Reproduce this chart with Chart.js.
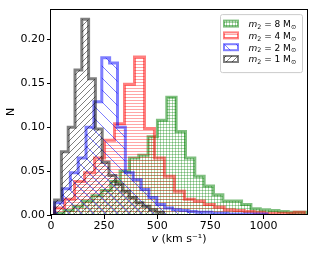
<!DOCTYPE html>
<html>
<head>
<meta charset="utf-8">
<script src="https://cdn.jsdelivr.net/npm/chart.js@4.4.0/dist/chart.umd.min.js"></script>
<style>
  html, body { margin: 0; padding: 0; background: #ffffff; }
  #wrap { width: 315px; height: 253px; }
</style>
</head>
<body>
<div id="wrap"><canvas id="velChart" width="315" height="253"></canvas></div>
<script>
// Velocity distributions for different companion masses
// bin edges in km/s, values are fraction of systems per bin

const edges8 = [17, 61, 105, 149, 193, 237, 281, 325, 369, 413, 457, 501, 545, 589,
  633, 677, 721, 765, 809, 853, 897, 941, 985, 1029, 1073, 1117, 1161, 1205];
const vals8 = [0.002, 0.005, 0.010, 0.016, 0.022, 0.028, 0.038, 0.050, 0.065, 0.068,
  0.089, 0.108, 0.134, 0.095, 0.065, 0.044, 0.033, 0.023, 0.016, 0.016, 0.012,
  0.007, 0.006, 0.005, 0.004, 0.003, 0.003];

const edges4 = [17, 64, 111, 158, 205, 252, 299, 346, 393, 440, 487, 534, 581, 628,
  675, 722, 769, 816, 863, 910, 957, 1004, 1051, 1098, 1145, 1192];
const vals4 = [0.008, 0.018, 0.038, 0.048, 0.065, 0.085, 0.104, 0.149, 0.180, 0.0985,
  0.065, 0.044, 0.027, 0.018, 0.016, 0.012, 0.009, 0.006, 0.005, 0.004, 0.003,
  0.002, 0.002, 0.002, 0.003];

const edges2 = [17, 54, 91, 128, 165, 202, 239, 276, 313, 350, 387, 424, 461, 498,
  535, 572, 609, 646, 683, 720, 757, 794, 831, 868, 905, 942, 979, 1016];
const vals2 = [0.014, 0.030, 0.048, 0.065, 0.100, 0.129, 0.179, 0.173, 0.100, 0.048,
  0.040, 0.029, 0.020, 0.012, 0.008, 0.006, 0.005, 0.004, 0.003, 0.003, 0.002,
  0.002, 0.001, 0.001, 0.001, 0.001, 0.001];

const edges1 = [17, 49, 81, 113, 145, 177, 209, 241, 273, 305, 337, 369, 401, 433,
  465, 497, 529];
const vals1 = [0.017, 0.072, 0.100, 0.165, 0.223, 0.155, 0.098, 0.060, 0.045, 0.035,
  0.027, 0.020, 0.014, 0.010, 0.006, 0.003];

const massLabels = ["8", "4", "2", "1"];
const xTicks = [0, 250, 500, 750, 1000];
const yTicks = [0, 0.05, 0.10, 0.15, 0.20];

const FONT = "'DejaVu Sans', 'Liberation Sans', sans-serif";

// hatch patterns, roughly like matplotlib's '++++', '----', '\\' and '//'
function makeHatch(kind, color, size) {
  const c = document.createElement("canvas");
  c.width = size;
  c.height = size;
  const g = c.getContext("2d");
  g.strokeStyle = color;
  g.lineWidth = 1;
  g.beginPath();
  if (kind === "grid" || kind === "horizontal") {
    g.moveTo(0, size / 2);
    g.lineTo(size, size / 2);
  }
  if (kind === "grid") {
    g.moveTo(size / 2, 0);
    g.lineTo(size / 2, size);
  }
  if (kind === "forward") {
    g.moveTo(-1, size + 1);
    g.lineTo(size + 1, -1);
    g.moveTo(-1, 1);
    g.lineTo(1, -1);
    g.moveTo(size - 1, size + 1);
    g.lineTo(size + 1, size - 1);
  }
  if (kind === "back") {
    g.moveTo(-1, -1);
    g.lineTo(size + 1, size + 1);
    g.moveTo(size - 1, -1);
    g.lineTo(size + 1, 1);
    g.moveTo(-1, size - 1);
    g.lineTo(1, size + 1);
  }
  g.stroke();
  return g.createPattern(c, "repeat");
}

// histogram outline: one point per bin start, closed down to zero at both ends
function stepPoints(edges, vals) {
  const pts = [{ x: edges[0], y: 0 }];
  vals.forEach((v, i) => pts.push({ x: edges[i], y: v }));
  pts.push({ x: edges[edges.length - 1], y: 0 });
  return pts;
}

const colGreen = "rgba(0, 128, 0, 0.5)";
const colRed = "rgba(255, 0, 0, 0.5)";
const colBlue = "rgba(0, 0, 255, 0.5)";
const colGray = "rgba(0, 0, 0, 0.5)";

function histDataset(label, edges, vals, color, hatch, order) {
  return {
    label: label,
    data: stepPoints(edges, vals),
    borderColor: color,
    backgroundColor: hatch,
    borderWidth: 3,
    borderJoinStyle: "miter",
    stepped: true,
    fill: "origin",
    pointRadius: 0,
    order: order,
  };
}

const datasets = [
  histDataset("m₂ = 8 M⊙", edges8, vals8, colGreen, makeHatch("grid", "rgba(0,128,0,0.33)", 3), 4),
  histDataset("m₂ = 4 M⊙", edges4, vals4, colRed, makeHatch("horizontal", "rgba(255,0,0,0.35)", 3), 3),
  histDataset("m₂ = 2 M⊙", edges2, vals2, colBlue, makeHatch("back", colBlue, 12), 2),
  histDataset("m₂ = 1 M⊙", edges1, vals1, colGray, makeHatch("forward", colGray, 6), 1),
];

// full box around the plot area
const frameBox = {
  id: "frameBox",
  afterDatasetsDraw(chart) {
    const { ctx, chartArea: a } = chart;
    ctx.save();
    ctx.strokeStyle = "#000";
    ctx.lineWidth = 1;
    ctx.strokeRect(Math.round(a.left) - 0.5, Math.round(a.top) + 0.5,
      Math.round(a.right - a.left) + 1, Math.round(a.bottom - a.top) - 1);
    ctx.restore();
  },
};

// legend in matplotlib style plus the axis labels
const legendBox = {
  id: "legendBox",
  afterDraw(chart) {
    const { ctx, chartArea: a } = chart;
    ctx.save();

    const w = 82, h = 58;
    const left = a.right - 5 - w;
    const top = a.top + 5.5;
    ctx.beginPath();
    ctx.roundRect(left + 0.5, top + 0.5, w, h, 2);
    ctx.fillStyle = "rgba(255,255,255,0.8)";
    ctx.fill();
    ctx.strokeStyle = "#cccccc";
    ctx.lineWidth = 1;
    ctx.stroke();

    chart.data.datasets.forEach((ds, i) => {
      const rowY = top + 9.5 + i * 11.8;
      ctx.fillStyle = ds.backgroundColor;
      ctx.fillRect(left + 4, rowY - 3, 14, 6);
      ctx.strokeStyle = ds.borderColor;
      ctx.lineWidth = 2;
      ctx.strokeRect(left + 4, rowY - 3, 14, 6);

      let x = left + 28.5;
      const base = rowY + 3.3;
      ctx.fillStyle = "#000";
      ctx.textBaseline = "alphabetic";
      ctx.textAlign = "left";
      ctx.font = "italic 9px " + FONT;
      ctx.fillText("m", x, base);
      x += ctx.measureText("m").width;
      ctx.font = "6.3px " + FONT;
      ctx.fillText("2", x, base + 1.8);
      x += ctx.measureText("2").width;
      ctx.font = "9px " + FONT;
      const mid = " = " + massLabels[i] + " M";
      ctx.fillText(mid, x, base);
      x += ctx.measureText(mid).width;
      ctx.font = "6.3px " + FONT;
      ctx.fillText("⊙", x, base + 1.8);
    });

    // x label: italic v, then the units
    ctx.fillStyle = "#000";
    ctx.textBaseline = "alphabetic";
    ctx.textAlign = "left";
    ctx.font = "italic 11px " + FONT;
    const vW = ctx.measureText("v").width;
    ctx.font = "11px " + FONT;
    const unit = " (km s⁻¹)";
    const uW = ctx.measureText(unit).width;
    const cx = (a.left + a.right) / 2;
    let xs = cx - (vW + uW) / 2;
    ctx.font = "italic 11px " + FONT;
    ctx.fillText("v", xs, 242);
    ctx.font = "11px " + FONT;
    ctx.fillText(unit, xs + vW, 242);

    // y label
    ctx.translate(11, (a.top + a.bottom) / 2);
    ctx.rotate(-Math.PI / 2);
    ctx.textAlign = "center";
    ctx.textBaseline = "middle";
    ctx.fillText("N", 0, 0);

    ctx.restore();
  },
};

new Chart(document.getElementById("velChart").getContext("2d"), {
  type: "line",
  data: { datasets: datasets },
  options: {
    responsive: false,
    animation: false,
    layout: { padding: { top: 7, right: 8, left: 0, bottom: 0 } },
    plugins: {
      legend: { display: false },
      tooltip: { enabled: false },
    },
    scales: {
      x: {
        type: "linear",
        min: 0,
        max: 1205,
        afterFit: (scale) => { scale.height = 38; },
        afterBuildTicks: (axis) => { axis.ticks = xTicks.map((v) => ({ value: v })); },
        grid: { display: true, drawOnChartArea: false, drawTicks: true, tickLength: 4, color: "#000" },
        border: { display: false },
        ticks: {
          color: "#000",
          padding: 1,
          maxRotation: 0,
          font: { family: FONT, size: 11 },
          callback: (v) => String(v),
        },
      },
      y: {
        type: "linear",
        min: 0,
        max: 0.235,
        afterFit: (scale) => { scale.width = 51; },
        afterBuildTicks: (axis) => { axis.ticks = yTicks.map((v) => ({ value: v })); },
        grid: { display: true, drawOnChartArea: false, drawTicks: true, tickLength: 4, color: "#000" },
        border: { display: false },
        ticks: {
          color: "#000",
          padding: 2,
          font: { family: FONT, size: 11 },
          callback: (v) => v.toFixed(2),
        },
      },
    },
  },
  plugins: [frameBox, legendBox],
});
</script>
</body>
</html>
